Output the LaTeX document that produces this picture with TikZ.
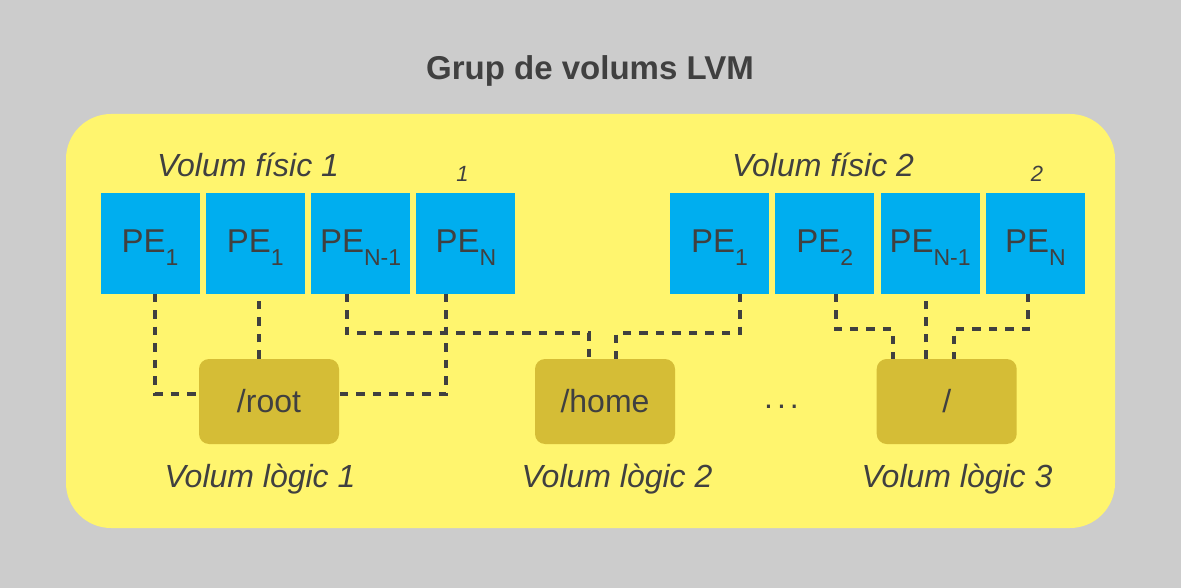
\documentclass[tikz,border=0pt]{standalone}
\usepackage{fontspec}
\setmainfont{Liberation Sans}
\usepackage{tikz}
\usetikzlibrary{positioning,calc}
\usepackage{xcolor}
\definecolor{bggray}{HTML}{CCCCCC}
\definecolor{vgyellow}{HTML}{FFF56E}
\definecolor{peblue}{HTML}{00AEEF}
\definecolor{lvolive}{HTML}{D5BD36}
\definecolor{txtgray}{HTML}{404040}
\tikzset{
  pebox/.style={fill=peblue, minimum width=99pt, minimum height=100pt, inner sep=0pt, text height=22pt, text depth=3.6pt, font=\fontsize{33}{38}\selectfont},
  lvbox/.style={fill=lvolive, rounded corners=10pt, minimum width=140pt, minimum height=85pt, inner sep=0pt, text height=22pt, text depth=0pt},
  link/.style={draw=txtgray, line width=4pt, dash pattern=on 8.5pt off 8pt},
  caption/.style={anchor=base, font=\itshape\fontsize{32}{38}\selectfont},
  idx/.style={anchor=base, font=\itshape\fontsize{22}{26}\selectfont},
}
\newcommand{\pelabel}[1]{PE\raisebox{-12.5pt}{\fontsize{23}{23}\selectfont #1}}

\begin{document}
\begin{tikzpicture}[
  x=1pt, y=-1pt,
  node distance=105.3pt,
  every node/.style={text=txtgray, font=\fontsize{32}{38}\selectfont}
]

\useasboundingbox (0,0) rectangle (1181,588);
\fill[bggray] (0,0) rectangle (1181,588);
\fill[vgyellow, rounded corners=45pt] (66,114) rectangle (1115,528);

\node[anchor=base, font=\bfseries\fontsize{33}{40}\selectfont] (title) at (590,80) {Grup de volums LVM};

\node[pebox] (pe11) at (150,243.5) {\pelabel{1}};
\node[pebox,right of=pe11] (pe12) {\pelabel{1}};
\node[pebox,right of=pe12] (pe13) {\pelabel{N-1}};
\node[pebox,right of=pe13] (pe14) {\pelabel{N}};

\node[pebox] (pe21) at (719.5,243.5) {\pelabel{1}};
\node[pebox,right of=pe21] (pe22) {\pelabel{2}};
\node[pebox,right of=pe22] (pe23) {\pelabel{N-1}};
\node[pebox,right of=pe23] (pe24) {\pelabel{N}};

\node[caption] (pv1) at (248,177) {Volum físic 1};
\node[idx] (pv1n) at (462.5,182) {1};
\node[caption] (pv2) at (823,177) {Volum físic 2};
\node[idx] (pv2n) at (1037,182) {2};

\node[lvbox] (root) at (269,401.5) {/root};
\node[lvbox] (home) at (605,401.5) {/home};
\node[lvbox] (slash) at (946.7,401.5) {/};
\node[anchor=base] (dots) at (781.5,408) {.\hspace{4pt}.\hspace{4pt}.};

\node[caption] (lv1) at (260,487) {Volum lògic 1};
\node[caption] (lv2) at (617,487) {Volum lògic 2};
\node[caption] (lv3) at (957,487) {Volum lògic 3};

\draw[link] ([xshift=5.4pt]pe11.south) |- ([yshift=7.5pt]root.west);
\draw[link] ([xshift=-10pt]root.north) -- ([xshift=-10pt]root.north |- pe12.south);
\draw[link] ([xshift=-13.6pt]pe13.south) -- ++(0pt,-39.5pt) -| ([xshift=-16pt]home.north);
\draw[link] ([xshift=-20pt]pe14.south) |- ([yshift=7.5pt]root.east);
\draw[link] ([xshift=20.5pt]pe21.south) -- ++(0pt,-39.5pt) -| ([xshift=11pt]home.north);
\draw[link] ([xshift=11pt]pe22.south) -- ++(0pt,-35.5pt) -| ([xshift=-54pt]slash.north);
\draw[link] ([xshift=-20.7pt]slash.north) -- ([xshift=-20.7pt]slash.north |- pe23.south);
\draw[link] ([xshift=-7.7pt]pe24.south) -- ++(0pt,-35.5pt) -| ([xshift=7.3pt]slash.north);

\end{tikzpicture}
\end{document}
